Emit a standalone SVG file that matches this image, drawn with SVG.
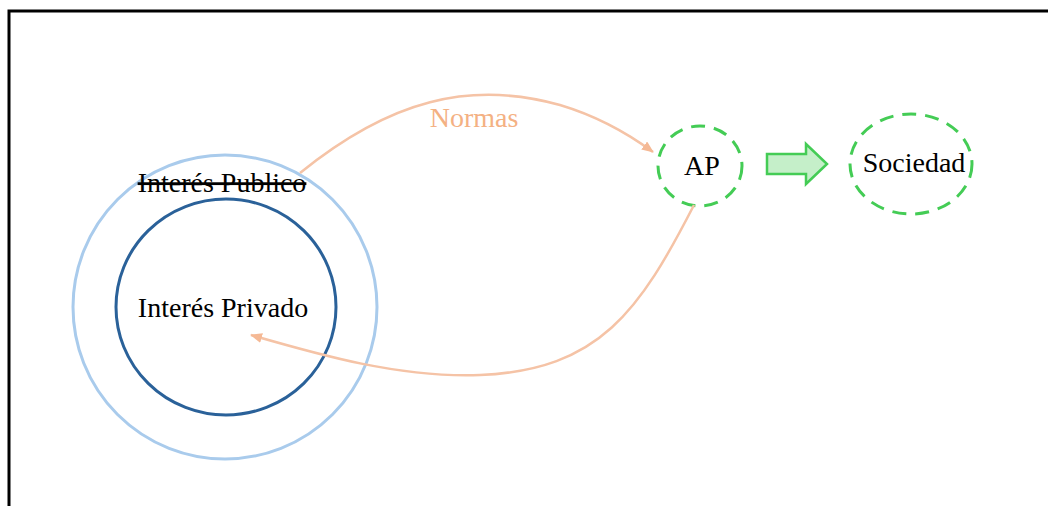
<svg xmlns="http://www.w3.org/2000/svg" width="1048" height="506" viewBox="0 0 1048 506">
  <style>
    .lbl { font-family: "Liberation Serif", "Times New Roman", serif; font-size: 28px; fill: #000; }
    .edge-lbl { font-family: "Liberation Serif", "Times New Roman", serif; font-size: 28px; fill: #f4b183; }
    .dash { fill: none; stroke: #44cc55; stroke-width: 3; stroke-dasharray: 14 9; }
    .flow { fill: none; stroke: #f5c3a6; stroke-width: 2.5; }
  </style>
  <defs>
    <marker id="head" markerWidth="12" markerHeight="10" refX="11" refY="5" orient="auto" markerUnits="userSpaceOnUse">
      <path d="M0,0 L12,5 L0,10 Z" fill="#f5b995"/>
    </marker>
  </defs>
  <rect width="1048" height="506" fill="#fff"/>
  <!-- frame -->
  <path d="M9,506 V11 H1048" fill="none" stroke="#000" stroke-width="3"/>

  <g id="interes-publico">
    <circle cx="225" cy="307" r="152" fill="none" stroke="#a9cbec" stroke-width="3"/>
    <text class="lbl" x="222" y="192" text-anchor="middle" text-decoration="line-through">Interés Publico</text>
  </g>
  <g id="interes-privado">
    <ellipse cx="226" cy="307" rx="110" ry="108" fill="none" stroke="#2a6199" stroke-width="3"/>
    <text class="lbl" x="223" y="317" text-anchor="middle">Interés Privado</text>
  </g>
  <g id="ap">
    <ellipse class="dash" cx="700" cy="166" rx="42" ry="40"/>
    <text class="lbl" x="702" y="175" text-anchor="middle">AP</text>
  </g>
  <g id="sociedad">
    <ellipse class="dash" cx="911" cy="164" rx="61" ry="50"/>
    <text class="lbl" x="914" y="172" text-anchor="middle">Sociedad</text>
  </g>

  <g id="connectors">
    <path class="flow" d="M300,173 C390,100 470,80 560,105 C600,117 630,135 653,152" marker-end="url(#head)"/>
    <text class="edge-lbl" x="474" y="127" text-anchor="middle">Normas</text>
    <path class="flow" d="M694,205 C640,310 600,370 480,375 C400,378 320,355 251,335" marker-end="url(#head)"/>
    <path d="M767,154 H806 V144 L827,164 L806,184 V174 H767 Z" fill="#c5efc9" stroke="#44cc55" stroke-width="2.5" stroke-linejoin="miter"/>
  </g>
</svg>
